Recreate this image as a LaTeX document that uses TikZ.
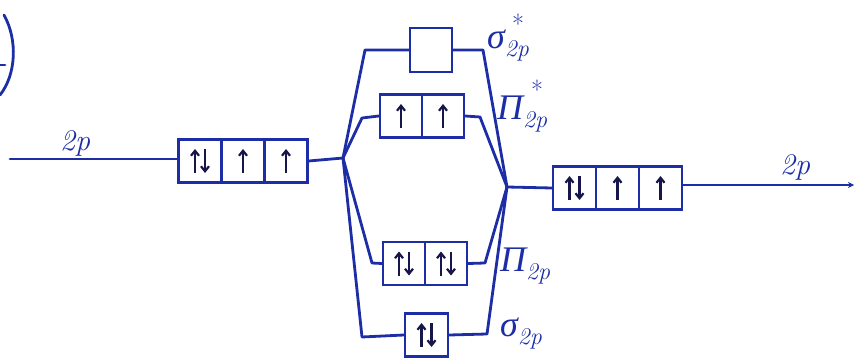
\documentclass[tikz,border=0pt]{standalone}
\usepackage{fontspec}
\newfontfamily\grk{Liberation Serif}
\usetikzlibrary{arrows.meta}
\definecolor{ink}{RGB}{28,45,165}
\definecolor{dark}{RGB}{22,22,75}
\newcommand{\eup}[2][0pt]{\draw[el] ([xshift=#1,yshift=-12pt]#2.center) -- ([xshift=#1,yshift=12pt]#2.center);}
\newcommand{\edown}[2][0pt]{\draw[el] ([xshift=#1,yshift=12pt]#2.center) -- ([xshift=#1,yshift=-12pt]#2.center);}
\newcommand{\epair}[1]{\eup[-5pt]{#1}\edown[5pt]{#1}}
\newcommand{\olab}[1]{{\fontsize{36}{38}\selectfont\grk\itshape #1}\raisebox{-8pt}{\fontsize{24}{24}\selectfont\itshape 2p}}
\begin{document}
\begin{tikzpicture}[x=1pt,y=-1pt,
  line/.style={draw=ink, line width=2.8pt, line join=round, line cap=round},
  orb/.style={draw=ink, line width=2.4pt, fill=white, minimum width=43pt, minimum height=43pt, inner sep=0pt},
  el/.style={draw=dark, line width=2.2pt, -{Straight Barb[length=5pt,width=8pt]}},
  lbl/.style={text=ink, inner sep=0pt},
  star/.style={text=ink, font=\fontsize{26}{26}\selectfont, inner sep=0pt},
  lbltwo/.style={text=ink, font=\fontsize{30}{32}\selectfont\itshape, inner sep=0pt}]
\useasboundingbox (0,0) rectangle (856,358);
% left partial bracket
\draw[line] (4,15) .. controls (18,40) and (16,75) .. (0,95);
\draw[line] (0,65) -- (5,65);
% orbital boxes
\node[orb] (l1) at (200,161) {};
\node[orb] (l2) at (243,161) {};
\node[orb] (l3) at (286,161) {};
\node[orb, minimum width=42pt, minimum height=44pt] (sa) at (431,50) {};
\node[orb, minimum width=42pt] (pa1) at (401,116) {};
\node[orb, minimum width=42pt] (pa2) at (443,116) {};
\node[orb, minimum width=42pt] (pb1) at (404,263.5) {};
\node[orb, minimum width=42pt] (pb2) at (446,263.5) {};
\node[orb] (sb) at (426.5,335) {};
\node[orb] (r1) at (574.5,188) {};
\node[orb] (r2) at (617.5,188) {};
\node[orb] (r3) at (660.5,188) {};
% junctions and ends
\coordinate (J1) at (343,158);
\coordinate (J2) at (507,187);
\coordinate (L0) at (10,159);
\coordinate (R0) at (854,185);
% connectors
\draw[line] (L0) -- (l1.west |- L0);
\draw[line] (l3.east) -- (J1);
\draw[line] (J1) -- (365,50) -- (sa.west);
\draw[line] (sa.east) -- (483,50) -- (J2);
\draw[line] (J1) -- (362,118) -- (pa1.west);
\draw[line] (pa2.east) -- (480,117) -- (J2);
\draw[line] (J1) -- (372,263) -- (pb1.west);
\draw[line] (pb2.east) -- (485,263) -- (J2);
\draw[line] (J1) -- (362,337) -- (sb.west);
\draw[line] (sb.east) -- (487,334) -- (J2);
\draw[line] (J2) -- (r1.west);
\draw[line, -{Stealth[length=6pt,width=6pt]}] (r3.east |- R0) -- (R0);
% electrons
\epair{l1}\eup{l2}\eup{l3}
\eup{pa1}\eup{pa2}
\epair{pb1}\epair{pb2}
\epair{sb}
\epair{r1}\eup{r2}\eup{r3}
% labels
\node[lbltwo] (t2l) at (75,143) {2p};
\node[lbltwo] (t2r) at (795,167) {2p};
\node[lbl, anchor=west] (ls1) at (487,46) {\olab{σ}};
\node[star] (ss1) at (518,24) {*};
\node[lbl, anchor=west] (lp1) at (497,114) {\olab{Π}};
\node[star] (sp1) at (537,90) {*};
\node[lbl, anchor=west] (lp2) at (500,266) {\olab{Π}};
\node[lbl, anchor=west] (ls2) at (500,334) {\olab{σ}};
\end{tikzpicture}
\end{document}
